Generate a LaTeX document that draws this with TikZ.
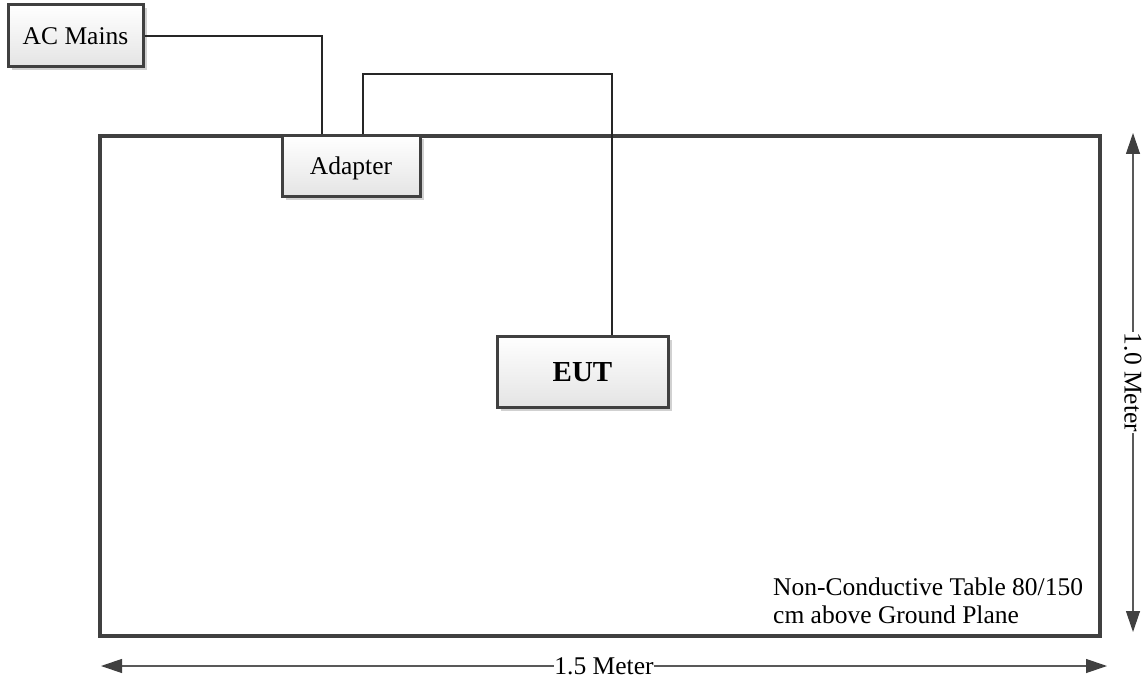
\documentclass[tikz,border=0pt]{standalone}
\usepackage{fontspec}
\setmainfont{Liberation Serif}
\usetikzlibrary{arrows.meta,shadows}
\definecolor{edge}{HTML}{404040}
\definecolor{boxbot}{HTML}{E4E4E4}
\begin{document}
\begin{tikzpicture}[x=1pt,y=-1pt,
  lbl/.style={font=\fontsize{25.5}{28.3}\selectfont, text height=17pt, text depth=0pt},
  devbox/.style={lbl, draw=edge, line width=3pt, top color=white, bottom color=boxbot,
     drop shadow={shadow xshift=3.5pt, shadow yshift=-3.5pt, fill=black!18, opacity=1}, inner sep=0pt},
  tablebox/.style={draw=edge, line width=3.5pt, fill=white,
     drop shadow={shadow xshift=2pt, shadow yshift=-2pt, fill=black!15, opacity=1}, inner sep=0pt},
  wire/.style={line width=1.1pt, draw=black!85},
  dim/.style={line width=1.2pt, draw=black!65,
     {Triangle[length=21pt,width=14pt,color=edge]}-{Triangle[length=21pt,width=14pt,color=edge]}},
  dimlabel/.style={lbl, fill=white, inner sep=0.5pt}
]
\useasboundingbox (0,0) rectangle (1146,679);

\node[tablebox, minimum width=1000pt, minimum height=500pt] (table) at (600,386) {};

\node[devbox, minimum width=135pt, minimum height=62pt] (ac) at (75.5,36) {AC Mains};
\node[devbox, minimum width=138pt, minimum height=61pt] (adapter) at (351,166.5) {Adapter};
\node[devbox, font=\fontsize{29}{32}\selectfont\bfseries, text height=19.5pt,
      minimum width=171pt, minimum height=71pt] (eut) at (582.5,371.5) {EUT};

\coordinate (bend) at (612,74);
\draw[wire] (ac.east) -| ([xshift=-29pt]adapter.north);
\draw[wire] ([xshift=12pt]adapter.north) |- (bend) -- (bend |- eut.north);

\node[font=\fontsize{25.5}{28.3}\selectfont, anchor=north west, align=left, inner sep=0pt]
  (note) at (773,577.5) {Non-Conductive Table 80/150\\cm above Ground Plane};

\coordinate (vt) at (1133,133);
\coordinate (vb) at (1133,632);
\draw[dim] (vt) -- node[dimlabel, rotate=-90] (vlabel) {1.0 Meter} (vb);

\coordinate (hl) at (101,666);
\coordinate (hr) at (1107,666);
\draw[dim] (hl) -- node[dimlabel] (hlabel) {1.5 Meter} (hr);
\end{tikzpicture}
\end{document}
